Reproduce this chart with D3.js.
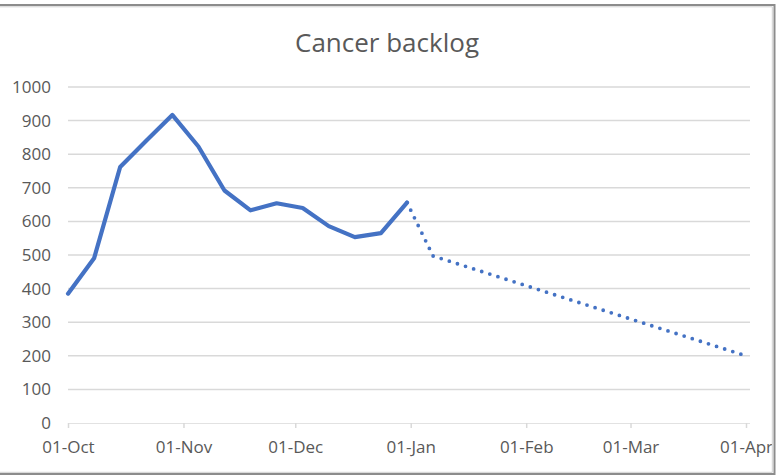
<!DOCTYPE html>
<html>
<head>
<meta charset="utf-8">
<script src="https://cdn.jsdelivr.net/npm/d3@7"></script>
<style>
  html, body { margin: 0; padding: 0; background: #fff; }
  svg { display: block; }
</style>
</head>
<body>
<svg id="chart" width="783" height="476"></svg>
<script>
// ---- data ----
const title = "Cancer backlog";
const actualDates = ["2020-10-01","2020-10-08","2020-10-15","2020-10-22","2020-10-29","2020-11-05","2020-11-12","2020-11-19","2020-11-26","2020-12-03","2020-12-10","2020-12-17","2020-12-24","2020-12-31"];
const actualValues = [385, 490, 762, 840, 917, 823, 692, 633, 654, 640, 586, 553, 565, 656];
const projectedDates = ["2020-12-31","2021-01-07","2021-04-01"];
const projectedValues = [656, 497, 200];
const yTicks = [0,100,200,300,400,500,600,700,800,900,1000];
const xTickDates = ["2020-10-01","2020-11-01","2020-12-01","2021-01-01","2021-02-01","2021-03-01","2021-04-01"];

// ---- layout ----
const parse = d3.timeParse("%Y-%m-%d");
const svg = d3.select("#chart");
const x = d3.scaleTime().domain([parse("2020-10-01"), parse("2021-04-01")]).range([68, 746]);
const y = d3.scaleLinear().domain([0, 1000]).range([423, 87]);
const gridRight = 750;
const textColor = "#595959";
const font = "'Open Sans', 'Liberation Sans', sans-serif";

svg.append("defs").append("clipPath").attr("id", "clipArea")
  .append("rect").attr("x", 0).attr("y", 0).attr("width", 772).attr("height", 472);

// title
svg.append("text")
  .attr("x", 387).attr("y", 52)
  .attr("text-anchor", "middle")
  .attr("font-family", font).attr("font-size", 26)
  .attr("fill", textColor)
  .text(title);

// gridlines
svg.append("g").selectAll("line").data(yTicks.filter(d => d > 0)).join("line")
  .attr("x1", 68).attr("x2", gridRight)
  .attr("y1", d => y(d)).attr("y2", d => y(d))
  .attr("stroke", "#d9d9d9").attr("stroke-width", 1.5);

// y axis labels
const yAxis = d3.axisLeft(y).tickValues(yTicks).tickFormat(d3.format("d")).tickSize(0).tickPadding(0);
const yg = svg.append("g").attr("transform", "translate(51,0)").call(yAxis);
yg.select(".domain").remove();
yg.selectAll("text").attr("font-family", font).attr("font-size", 17).attr("fill", textColor);

// x axis
const xAxis = d3.axisBottom(x).tickValues(xTickDates.map(parse))
  .tickFormat(d3.timeFormat("%d-%b")).tickSize(5).tickPadding(13).tickSizeOuter(0);
const xg = svg.append("g").attr("transform", `translate(0,${y(0)})`).attr("clip-path", "url(#clipArea)").call(xAxis);
xg.select(".domain").attr("d", `M68,0H${gridRight}`).attr("stroke", "#d9d9d9").attr("stroke-width", 1.5);
xg.selectAll(".tick line").attr("stroke", "#d9d9d9").attr("stroke-width", 1.5);
xg.selectAll("text").attr("font-family", font).attr("font-size", 17).attr("fill", textColor);

// lines
const line = d3.line().x(d => x(d[0])).y(d => y(d[1]));
const actual = actualDates.map((d, i) => [parse(d), actualValues[i]]);
const projected = projectedDates.map((d, i) => [parse(d), projectedValues[i]]);

svg.append("path").datum(projected)
  .attr("d", line).attr("fill", "none")
  .attr("stroke", "#4472c4").attr("stroke-width", 3.8)
  .attr("stroke-linecap", "round").attr("stroke-dasharray", "0 8.5");

svg.append("path").datum(actual)
  .attr("d", line).attr("fill", "none")
  .attr("stroke", "#4472c4").attr("stroke-width", 4.2)
  .attr("stroke-linejoin", "round").attr("stroke-linecap", "round");

// chart border
svg.append("path")
  .attr("d", "M-5,5H774.5V474H-5")
  .attr("fill", "none").attr("stroke", "#8c8c8c").attr("stroke-width", 2);
svg.append("path")
  .attr("d", "M-5,6.8H772.3V472.3H-5")
  .attr("fill", "none").attr("stroke", "#d0d0d0").attr("stroke-width", 1);
</script>
</body>
</html>
